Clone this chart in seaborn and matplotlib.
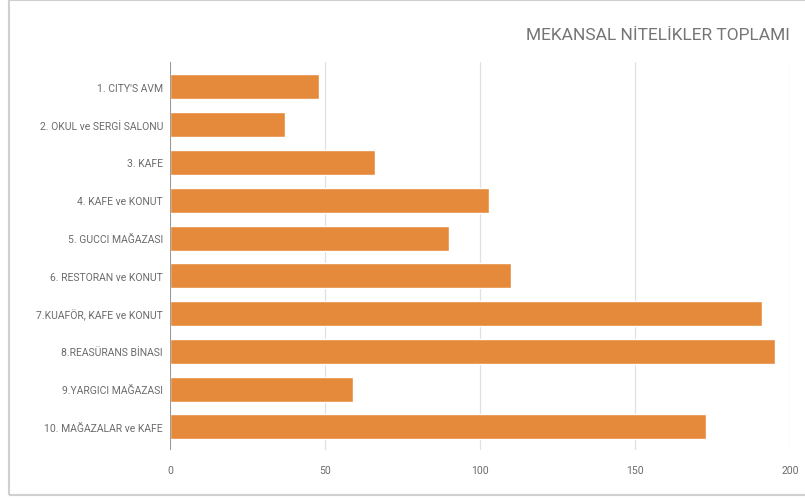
import pandas as pd
import matplotlib
matplotlib.use("Agg")
import matplotlib.pyplot as plt
import seaborn as sns
from matplotlib.patches import Rectangle

# veriler
mekanlar = [
    "1. CITY'S AVM",
    "2. OKUL ve SERGİ SALONU",
    "3. KAFE",
    "4. KAFE ve KONUT",
    "5. GUCCI MAĞAZASI",
    "6. RESTORAN ve KONUT",
    "7.KUAFÖR, KAFE ve KONUT",
    "8.REASÜRANS BİNASI",
    "9.YARGICI MAĞAZASI",
    "10. MAĞAZALAR ve KAFE",
]
toplam = [48, 37, 66, 103, 90, 110, 191, 195, 59, 173]
x_ticks = [0, 50, 100, 150, 200]

df = pd.DataFrame({"mekan": mekanlar, "toplam": toplam})

sns.set_style("white")
plt.rcParams["font.family"] = ["Roboto", "DejaVu Sans"]

fig = plt.figure(figsize=(8.05, 5.02), dpi=100)
ax = fig.add_axes([170 / 805, 1 - 451 / 502, 620 / 805, 388 / 502])

sns.barplot(data=df, x="toplam", y="mekan", color="#E48A3A", saturation=1,
            width=0.66, ax=ax, zorder=3)

ax.set_xlim(0, 200)
ax.set_ylim(9.61, -0.66)
ax.set_xticks(x_ticks)
ax.set_xticklabels([str(t) for t in x_ticks])
ax.grid(axis="x", color="#E0E0E0", linewidth=0.9, zorder=0)
ax.axvline(0, color="#8a8a8a", linewidth=1.2, zorder=4)
for s in ax.spines.values():
    s.set_visible(False)
ax.set_xlabel("")
ax.set_ylabel("")
ax.tick_params(axis="both", length=0, labelsize=7.5, labelcolor="#6b6b6b")
ax.tick_params(axis="x", pad=11)
ax.tick_params(axis="y", pad=5)

fig.text(790 / 805, 1 - 36 / 502, "MEKANSAL NİTELİKLER TOPLAMI", ha="right",
         va="center", fontsize=12.5, color="#757575")

# dış çerçeve
fig.patches.append(Rectangle((9 / 805, 1 - 496 / 502), 1, 495 / 502,
                             transform=fig.transFigure, fill=False,
                             edgecolor="#d0d0d0", linewidth=1.5))

plt.savefig("out.png", dpi=100)
